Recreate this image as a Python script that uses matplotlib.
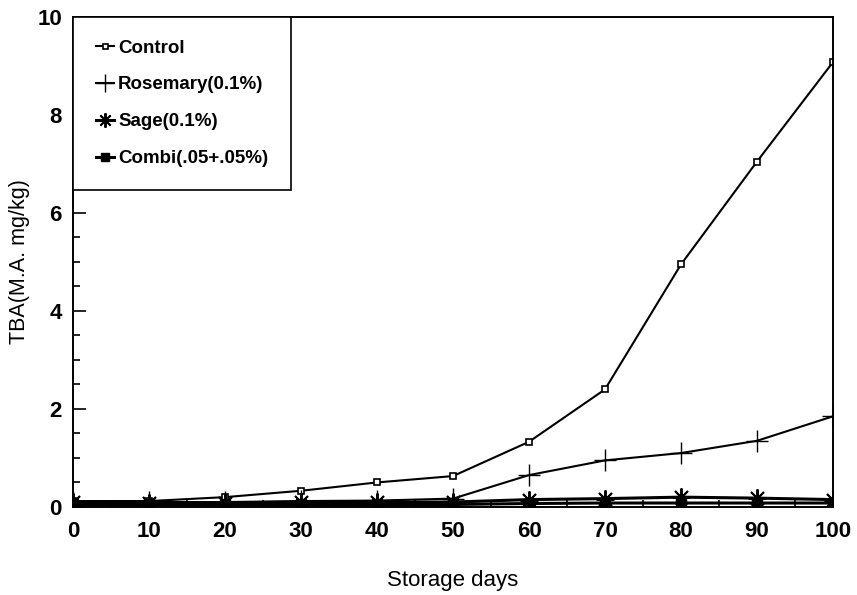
import numpy as np
import matplotlib
matplotlib.use("Agg")
import matplotlib.pyplot as plt
from matplotlib.ticker import MultipleLocator

plt.rcParams['font.family'] = ['Liberation Sans', 'DejaVu Sans']

days = [0, 10, 20, 30, 40, 50, 60, 70, 80, 90, 100]
control = [0.12, 0.12, 0.2, 0.33, 0.5, 0.63, 1.33, 2.4, 4.95, 7.05, 9.08]
rosemary = [0.1, 0.1, 0.1, 0.12, 0.13, 0.17, 0.65, 0.95, 1.1, 1.35, 1.85]
sage = [0.1, 0.08, 0.08, 0.1, 0.1, 0.1, 0.15, 0.17, 0.2, 0.18, 0.15]
combi = [0.05, 0.05, 0.05, 0.05, 0.05, 0.05, 0.07, 0.08, 0.08, 0.08, 0.08]

fig = plt.figure(figsize=(8.57, 5.95), dpi=100)
ax = fig.add_axes([0.0852, 0.148, 0.8868, 0.8234])

ax.plot(days, control, color="black", lw=1.5, marker="s", ms=4.5,
        mfc="white", mec="black", mew=1.2, label="Control")
ax.plot(days, rosemary, color="black", lw=1.5, marker="+", ms=16,
        mew=1.0, label="Rosemary(0.1%)")
ax.plot(days, sage, color="black", lw=2.2, marker=(8, 2, 0), ms=13,
        mew=1.4, label="Sage(0.1%)")
ax.plot(days, combi, color="black", lw=2.2, marker="s", ms=7,
        mfc="black", mec="black", label="Combi(.05+.05%)")

ax.set_xlim(0, 100)
ax.set_ylim(0, 10)
ax.xaxis.set_major_locator(MultipleLocator(10))
ax.xaxis.set_minor_locator(MultipleLocator(5))
ax.yaxis.set_major_locator(MultipleLocator(2))
ax.yaxis.set_minor_locator(MultipleLocator(0.5))
ax.tick_params(which="both", direction="in", width=1.2)
ax.tick_params(which="major", length=9, labelsize=16)
ax.tick_params(axis="x", which="major", pad=10)
ax.tick_params(axis="y", which="major", pad=8)
ax.tick_params(which="minor", length=5)
for lab in ax.get_xticklabels() + ax.get_yticklabels():
    lab.set_fontweight("bold")
for sp in ax.spines.values():
    sp.set_linewidth(1.4)

ax.set_xlabel("Storage days", fontsize=16, labelpad=20)
ax.set_ylabel("TBA(M.A. mg/kg)", fontsize=15.5, labelpad=5)

leg = ax.legend(loc="upper left", handlelength=1.0,
                handletextpad=0.2, labelspacing=1.05, borderpad=1.2,
                fancybox=False, framealpha=1, edgecolor="black",
                borderaxespad=0, markerscale=0.8,
                prop={'weight': 'bold', 'size': 13.5})
leg.get_frame().set_linewidth(1.2)

fig.savefig("out.png", dpi=100)
